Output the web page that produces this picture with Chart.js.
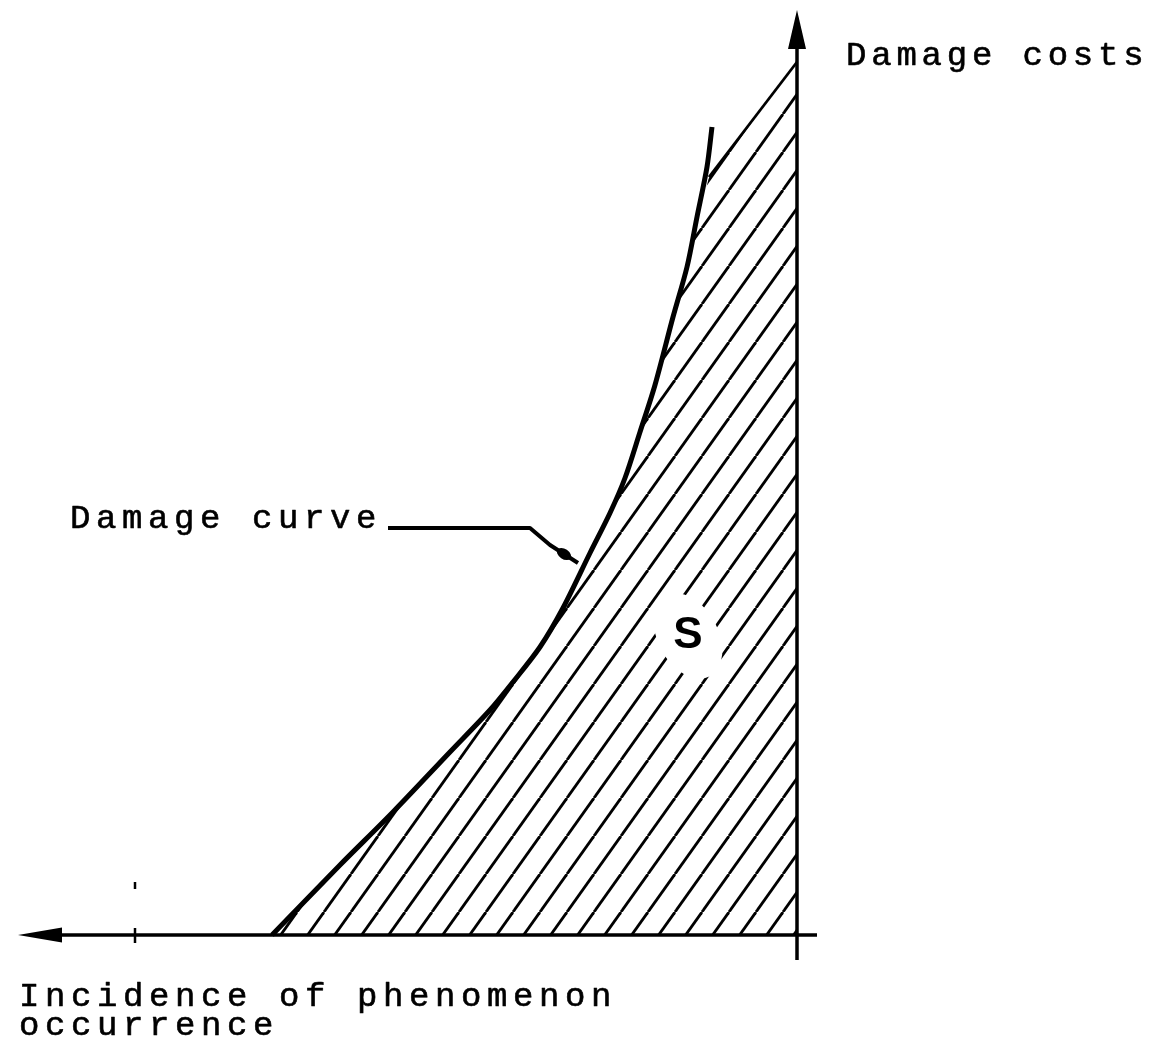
<!DOCTYPE html>
<html>
<head>
<meta charset="utf-8">
<script src="https://cdn.jsdelivr.net/npm/chart.js@4"></script>
<style>
  html, body { margin: 0; padding: 0; background: #fff; }
  canvas { display: block; }
</style>
</head>
<body>
<canvas id="c" width="1158" height="1049"></canvas>
<script>
// Incidence of phenomenon occurrence (increasing to the left) vs damage costs
const incidence = [52.5, 45.7, 40.4, 34.7, 30.7, 28.4, 25.7, 23.4, 20.7, 18.7, 17.2, 15.7, 14.2, 12.4, 11.0, 10.0, 9.0, 8.5];
const damage    = [0.0, 7.0, 12.3, 18.3, 22.5, 25.3, 28.8, 32.7, 38.2, 42.2, 45.7, 50.3, 55.0, 61.8, 66.8, 71.8, 76.8, 80.8];
// Hatched area S (under the damage curve up to the damage axis)
const areaX = [52.3, 45.5, 40.2, 34.5, 30.5, 28.2, 25.5, 23.2, 20.5, 18.5, 17.0, 15.5, 14.0, 12.2, 10.8, 9.8, 8.8, 0.0];
const areaY = [0.0, 7.0, 12.3, 18.3, 22.5, 25.3, 28.8, 32.7, 38.2, 42.2, 45.7, 50.3, 55.0, 61.8, 66.8, 71.8, 75.8, 87.3];
// Leader line from "Damage curve" label to the curve
const leaderX = [40.9, 26.7, 24.7, 21.9];
const leaderY = [40.7, 40.7, 39.0, 37.2];
const tickX = [66.2];
const xLimits = [-2, 77.9];
const yLimits = [-2.5, 92.5];
const labels = {
  yTitle: 'Damage costs',
  xTitle1: 'Incidence of phenomenon',
  xTitle2: 'occurrence',
  curve: 'Damage curve',
  area: 'S'
};
const labelX = { yTitle: -4.9, curve: 72.7, xTitle: 77.8, area: 10.9 };
const labelY = { yTitle: 87.0, curve: 40.7, xTitle1: -7.1, xTitle2: -10.0, area: 28.7 };

function hatchPattern() {
  const w = 27, h = 38;
  const c = document.createElement('canvas');
  c.width = w; c.height = h;
  const g = c.getContext('2d');
  g.strokeStyle = '#000';
  g.lineWidth = 2.8;
  for (const dx of [-w, 0, w]) {
    g.beginPath();
    g.moveTo(dx, h);
    g.lineTo(dx + w, 0);
    g.stroke();
  }
  return g.createPattern(c, 'repeat');
}

const drawPlugin = {
  id: 'drawExtras',
  afterDatasetsDraw(chart) {
    const ctx = chart.ctx;
    const xs = chart.scales.x, ys = chart.scales.y;
    const X = v => xs.getPixelForValue(v);
    const Y = v => ys.getPixelForValue(v);
    ctx.save();
    // clearing around S
    ctx.fillStyle = '#fff';
    ctx.beginPath();
    ctx.ellipse(X(labelX.area), Y(labelY.area) - 12, 30, 46, -0.5, 0, Math.PI * 2);
    ctx.fill();
    ctx.fillStyle = '#000';
    ctx.font = 'bold 44px "Liberation Sans", Arial, sans-serif';
    ctx.textAlign = 'center';
    ctx.textBaseline = 'alphabetic';
    ctx.fillText(labels.area, X(labelX.area), Y(labelY.area));

    ctx.strokeStyle = '#000';
    ctx.lineCap = 'butt';
    // x axis
    ctx.lineWidth = 3.5;
    ctx.beginPath();
    ctx.moveTo(X(xLimits[1]) + 30, Y(0));
    ctx.lineTo(X(xLimits[0]), Y(0));
    ctx.stroke();
    // y axis
    ctx.beginPath();
    ctx.moveTo(X(0), Y(yLimits[0]));
    ctx.lineTo(X(0), Y(yLimits[1]) + 30);
    ctx.stroke();
    // arrowheads
    ctx.fillStyle = '#000';
    ctx.beginPath();
    ctx.moveTo(X(xLimits[1]), Y(0));
    ctx.lineTo(X(xLimits[1]) + 44, Y(0) - 7.5);
    ctx.lineTo(X(xLimits[1]) + 44, Y(0) + 7.5);
    ctx.closePath();
    ctx.fill();
    ctx.beginPath();
    ctx.moveTo(X(0), Y(yLimits[1]));
    ctx.lineTo(X(0) - 9, Y(yLimits[1]) + 39);
    ctx.lineTo(X(0) + 9, Y(yLimits[1]) + 39);
    ctx.closePath();
    ctx.fill();
    // tick on x axis
    ctx.lineWidth = 2.5;
    for (const t of tickX) {
      ctx.beginPath();
      ctx.moveTo(X(t), Y(0) - 7);
      ctx.lineTo(X(t), Y(0) + 8);
      ctx.stroke();
      ctx.beginPath();
      ctx.moveTo(X(t), Y(0) - 53);
      ctx.lineTo(X(t), Y(0) - 46);
      ctx.stroke();
    }
    // leader line
    ctx.lineWidth = 4;
    ctx.lineJoin = 'round';
    ctx.beginPath();
    ctx.moveTo(X(leaderX[0]), Y(leaderY[0]));
    for (let i = 1; i < leaderX.length; i++) ctx.lineTo(X(leaderX[i]), Y(leaderY[i]));
    ctx.stroke();
    ctx.beginPath();
    ctx.ellipse((X(leaderX[2]) + X(leaderX[3])) / 2, (Y(leaderY[2]) + Y(leaderY[3])) / 2, 8, 5, 0.6, 0, Math.PI * 2);
    ctx.fill();

    // texts (typewriter style)
    ctx.fillStyle = '#000';
    ctx.strokeStyle = '#000';
    ctx.lineWidth = 0.6;
    ctx.textAlign = 'left';
    ctx.font = '34px "Liberation Mono", "Courier New", monospace';
    const put = (t, x, y, sp) => { ctx.letterSpacing = sp; ctx.fillText(t, x, y); ctx.strokeText(t, x, y); };
    put(labels.yTitle, X(labelX.yTitle), Y(labelY.yTitle), '4.8px');
    put(labels.curve, X(labelX.curve), Y(labelY.curve), '5.6px');
    put(labels.xTitle1, X(labelX.xTitle), Y(labelY.xTitle1), '5.6px');
    put(labels.xTitle2, X(labelX.xTitle), Y(labelY.xTitle2), '5.6px');
    ctx.restore();
  }
};

const areaPts = areaX.map((x, i) => ({ x, y: areaY[i] }));
const curvePts = incidence.map((x, i) => ({ x, y: damage[i] }));
const lastSeg = areaPts.length - 1;

new Chart(document.getElementById('c'), {
  type: 'line',
  data: {
    datasets: [
      {
        label: 'S',
        data: areaPts,
        fill: 'origin',
        backgroundColor: hatchPattern(),
        borderColor: '#000',
        borderWidth: 2.8,
        segment: {
          borderColor: c => (c.p1DataIndex === lastSeg ? '#000' : 'rgba(0,0,0,0)')
        },
        pointRadius: 0,
        tension: 0,
        order: 2
      },
      {
        label: 'Damage curve',
        data: curvePts,
        fill: false,
        borderColor: '#000',
        borderWidth: 5,
        pointRadius: 0,
        tension: 0.3,
        order: 1
      }
    ]
  },
  options: {
    responsive: false,
    animation: false,
    events: [],
    layout: { padding: { left: 18, right: 341, top: 10, bottom: 89 } },
    plugins: { legend: { display: false }, tooltip: { enabled: false } },
    scales: {
      x: { type: 'linear', reverse: true, min: xLimits[0], max: xLimits[1], display: false },
      y: { type: 'linear', min: yLimits[0], max: yLimits[1], display: false }
    }
  },
  plugins: [drawPlugin]
});
</script>
</body>
</html>
